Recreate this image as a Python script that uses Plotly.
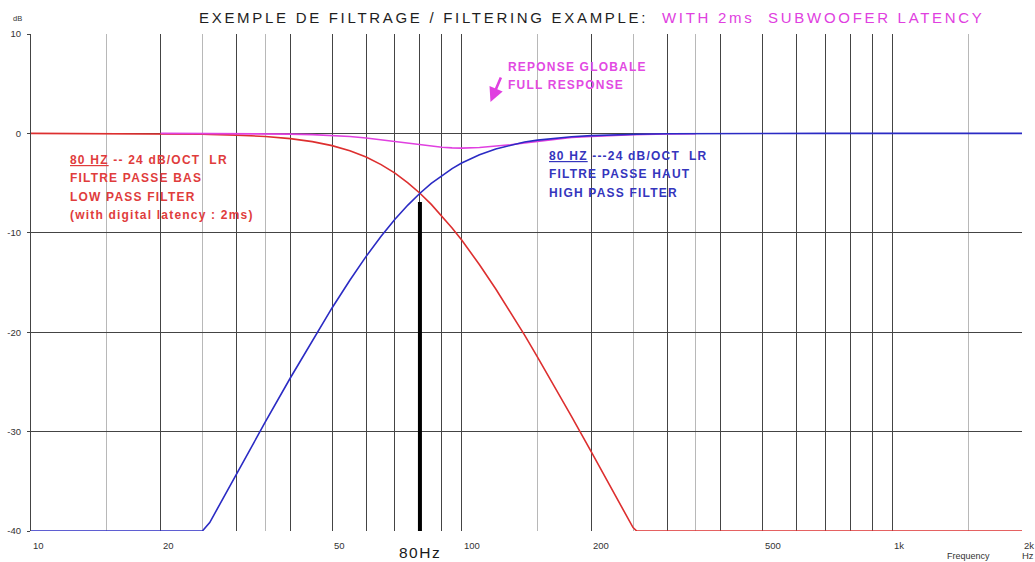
import math
import plotly.graph_objects as go

# ---------------- data ----------------
freq_hz = [10, 15, 20, 25, 26, 28, 30, 35, 40, 45, 50, 55, 60, 65, 70, 75, 80, 85, 90, 95,
           100, 110, 120, 130, 140, 150, 160, 180, 200, 225, 250, 255, 300, 400, 500, 700,
           1000, 1500, 2000]

low_pass_db = [0, -0.01, -0.03, -0.08, -0.1, -0.13, -0.17, -0.31, -0.53, -0.83, -1.23, -1.75,
               -2.38, -3.14, -4.0, -4.97, -6.02, -7.14, -8.31, -9.51, -10.73, -13.21, -15.65,
               -18.03, -20.3, -22.5, -24.6, -28.5, -32.05, -36.07, -39.66, -40, -40, -40, -40,
               -40, -40, -40, -40]

high_pass_db = [-40, -40, -40, -40, -39.15, -36.61, -34.25, -29.03, -24.61, -20.82, -17.56,
                -14.77, -12.37, -10.35, -8.64, -7.21, -6.02, -5.03, -4.22, -3.54, -2.98, -2.15,
                -1.56, -1.16, -0.86, -0.68, -0.53, -0.33, -0.22, -0.14, -0.09, -0.08, -0.04,
                -0.01, 0, 0, 0, 0, 0]

full_freq_hz = [20, 25, 30, 35, 40, 45, 50, 55, 60, 65, 70, 75, 80, 85, 90, 95, 100, 110, 120,
                130, 140, 150, 160, 180, 200, 225, 250, 300, 350]
full_response_db = [0, 0, -0.02, -0.04, -0.07, -0.12, -0.2, -0.31, -0.46, -0.64, -0.82, -1.0,
                    -1.17, -1.3, -1.4, -1.46, -1.48, -1.42, -1.3, -1.14, -0.95, -0.8, -0.62,
                    -0.42, -0.3, -0.2, -0.13, -0.06, -0.03]

marker_freq = [80, 80]
marker_db = [-40, -6.9]

major_grid_hz = [20, 30, 40, 50, 60, 70, 80, 90, 100, 200, 300, 400, 500, 600, 700, 800, 900,
                 1000, 2000]
light_grid_hz = [15, 25, 35, 150, 250, 350, 1500]

x_label_vals = [10, 20, 50, 100, 200, 500, 1000, 2000]
x_label_text = ["10", "20", "50", "100", "200", "500", "1k", "2k"]

y_tick_vals = [-40, -30, -20, -10, 0, 10]
y_tick_text = ["-40", "-30", "-20", "-10", "0", "10"]

# ---------------- styling ----------------
W, H = 1035, 562
L, R, T, B = 31, 1022, 34, 531
FONT = "Liberation Sans, Arial, sans-serif"
RED, BLUE, MAG = "#dd2f2f", "#2b2bc4", "#e040e0"
RED_T, BLUE_T, MAG_T = "#e03c3c", "#3535bd", "#e24ae2"
GRID_D, GRID_L = "#444444", "#b8b8b8"


def px(xp):
    return (xp - L) / (R - L)


def py(yp):
    return (B - yp) / (B - T)


def sp(text, extra="", ls=1.2):
    return f'<span style="letter-spacing:{ls}px;{extra}">{text}</span>'


fig = go.Figure()
fig.add_trace(go.Scatter(x=freq_hz, y=low_pass_db, mode="lines",
                         line=dict(color=RED, width=1.6), hoverinfo="skip"))
fig.add_trace(go.Scatter(x=full_freq_hz, y=full_response_db, mode="lines",
                         line=dict(color=MAG, width=1.6), hoverinfo="skip"))
fig.add_trace(go.Scatter(x=freq_hz, y=high_pass_db, mode="lines",
                         line=dict(color=BLUE, width=1.6), hoverinfo="skip"))
fig.add_trace(go.Scatter(x=marker_freq, y=marker_db, mode="lines",
                         line=dict(color="black", width=4), hoverinfo="skip"))

ann = []
# title
title = (sp("EXEMPLE DE FILTRAGE / FILTERING EXAMPLE:", ls=2.7) +
         sp("\u00a0 WITH 2ms\u00a0 SUBWOOFER LATENCY", "color:" + MAG, ls=2.7))
ann.append(dict(text=title, x=px(197), y=py(17), xanchor="left", yanchor="middle",
                font=dict(family=FONT, size=15, color="#1e1e1e")))

# x tick labels (left aligned at the gridline)
for v, t in zip(x_label_vals, x_label_text):
    ann.append(dict(text=t, x=math.log10(v), xref="x", y=py(545), xanchor="left",
                    yanchor="middle", xshift=0,
                    font=dict(family=FONT, size=9.5, color="#333")))
ann.append(dict(text="Hz", x=px(1020), y=py(555), xanchor="left", yanchor="middle",
                font=dict(family=FONT, size=9.5, color="#333")))
ann.append(dict(text="Frequency", x=px(992), y=py(556), xanchor="right", yanchor="middle",
                font=dict(family=FONT, size=9, color="#333")))
ann.append(dict(text="dB", x=px(17), y=py(19), xanchor="center", yanchor="middle",
                font=dict(family=FONT, size=7.5, color="#333")))
ann.append(dict(text=sp("80Hz", ls=1.5), x=px(420), y=py(552), xanchor="center",
                yanchor="middle", font=dict(family=FONT, size=15.5, color="#1a1a1a")))

bold = "font-weight:bold;"
red_lines = [sp("80 HZ", bold + "text-decoration:underline") +
             sp("\u00a0-- 24 dB/OCT\u00a0\u00a0LR", bold),
             sp("FILTRE PASSE BAS", bold), sp("LOW PASS FILTER", bold),
             sp("(with digital latency : 2ms)", bold)]
for t, yp in zip(red_lines, [160, 178.3, 196.7, 215]):
    ann.append(dict(text=t, x=px(68), y=py(yp), xanchor="left", yanchor="middle",
                    font=dict(family=FONT, size=12, color=RED_T)))

blue_lines = [sp("80 HZ", bold + "text-decoration:underline") +
              sp("\u00a0---24 dB/OCT\u00a0\u00a0LR", bold),
              sp("FILTRE PASSE HAUT", bold), sp("HIGH PASS FILTER", bold)]
for t, yp in zip(blue_lines, [156, 174, 192.7]):
    ann.append(dict(text=t, x=px(547), y=py(yp), xanchor="left", yanchor="middle",
                    font=dict(family=FONT, size=12, color=BLUE_T)))

mag_lines = [sp("REPONSE GLOBALE", bold), sp("FULL RESPONSE", bold)]
for t, yp in zip(mag_lines, [66.7, 85]):
    ann.append(dict(text=t, x=px(506), y=py(yp), xanchor="left", yanchor="middle",
                    font=dict(family=FONT, size=12, color=MAG_T)))

# arrow
ann.append(dict(text="", x=px(490.5), y=py(102), showarrow=True, arrowhead=2,
                arrowsize=1.1, arrowwidth=2.6, arrowcolor=MAG, ax=11, ay=-26,
                standoff=0))

for a in ann:
    a.setdefault("xref", "paper")
    a.setdefault("yref", "paper")
    a.setdefault("showarrow", False)

shapes = [
    dict(type="rect", xref="paper", yref="paper", x0=px(62), x1=px(252), y0=py(230),
         y1=py(148), fillcolor="white", line=dict(width=0), layer="between"),
    dict(type="rect", xref="paper", yref="paper", x0=px(536), x1=px(716), y0=py(207),
         y1=py(147), fillcolor="white", line=dict(width=0), layer="between"),
]

fig.update_layout(
    width=W, height=H, autosize=False,
    margin=dict(l=L, r=W - R, t=T, b=H - B, pad=0),
    paper_bgcolor="white", plot_bgcolor="white",
    showlegend=False,
    annotations=ann, shapes=shapes,
    xaxis=dict(type="log", range=[1, math.log10(2000)], tickmode="array",
               tickvals=major_grid_hz, showticklabels=False, ticks="",
               showgrid=True, gridcolor=GRID_D, gridwidth=1, showline=False,
               zeroline=False, automargin=False,
               minor=dict(tickmode="array", tickvals=light_grid_hz, showgrid=True,
                          gridcolor=GRID_L, gridwidth=1, ticks="")),
    yaxis=dict(range=[-40, 10], tickmode="array", tickvals=y_tick_vals,
               ticktext=y_tick_text, ticks="outside", ticklen=3, tickcolor=GRID_D,
               showgrid=True, gridcolor=GRID_D, gridwidth=1, showline=True,
               linecolor=GRID_D, linewidth=1, zeroline=False, automargin=False,
               ticklabelstandoff=4,
               tickfont=dict(family=FONT, size=9.5, color="#333")),
)

fig.write_html("out.html", config={"displayModeBar": False},
               post_script="document.body.style.margin='0';document.body.style.overflow='hidden';")
